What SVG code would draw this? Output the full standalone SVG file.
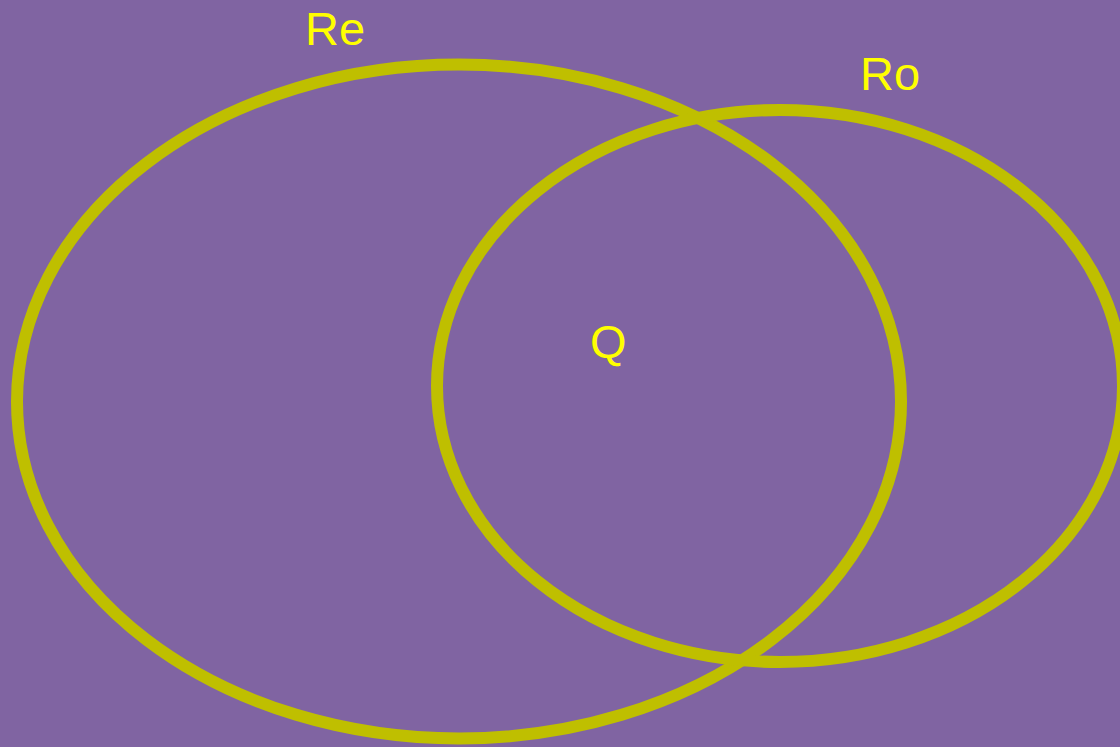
<svg xmlns="http://www.w3.org/2000/svg" width="1120" height="747" viewBox="0 0 1120 747">
<style>
.set{fill:none;stroke:#bfbf00;stroke-width:12}
.lbl{font-family:"Liberation Sans",Arial,sans-serif;font-size:47px;fill:#ffff00}
</style>
<rect width="1120" height="747" fill="#8064a2"/>
<g id="Re">
<ellipse class="set" cx="459" cy="401.5" rx="442" ry="337"/>
<text class="lbl" x="305" y="45">Re</text>
</g>
<g id="Ro">
<ellipse class="set" cx="780" cy="386" rx="343" ry="276"/>
<text class="lbl" x="860" y="90">Ro</text>
</g>
<g id="Q">
<text class="lbl" x="590" y="358">Q</text>
</g>
<g id="connectors"/>
</svg>
